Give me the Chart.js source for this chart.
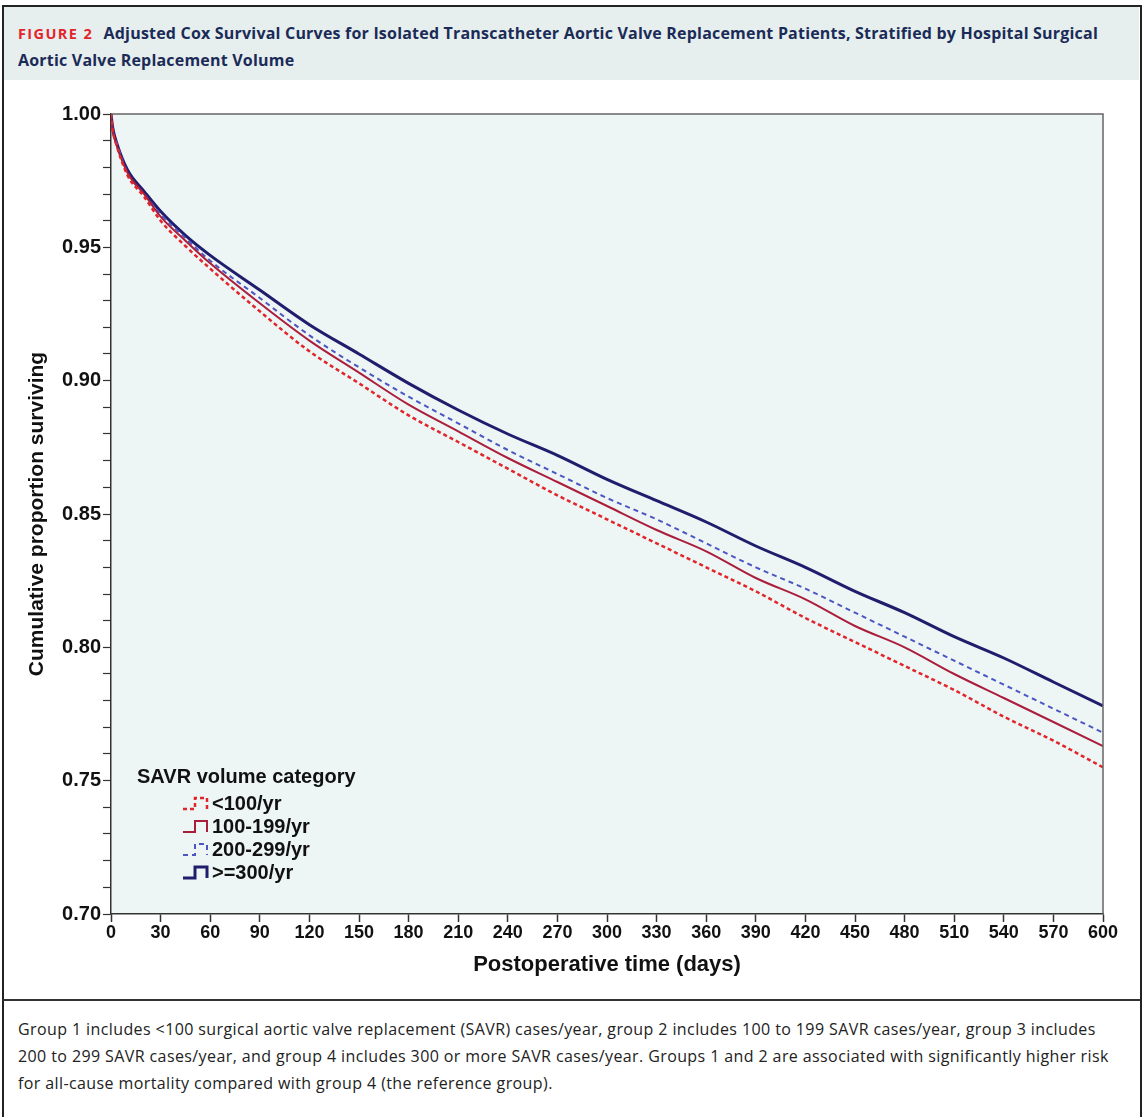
<!DOCTYPE html>
<html>
<head>
<meta charset="utf-8">
<script src="https://cdn.jsdelivr.net/npm/chart.js@4"></script>
<style>
  html, body { margin: 0; padding: 0; background: #fff; }
  body { width: 1142px; height: 1117px; position: relative; overflow: hidden; }
  #frame {
    position: absolute; left: 2px; top: 5px; width: 1136px; height: 1120px;
    border: 2px solid #222; border-bottom: none;
  }
  #header {
    position: absolute; left: 4px; top: 7px; width: 1135px; height: 73px;
    background: #e6efee;
  }
  #header p {
    margin: 0; position: absolute; left: 14px; top: 13px; width: 1115px;
    font-family: "Open Sans", sans-serif; font-weight: 700; font-size: 16px;
    line-height: 27px; color: #1b2b57; letter-spacing: 0.2px;
  }
  #header .fig { color: #e2252b; letter-spacing: 1.4px; font-size: 14.5px; margin-right: 6px; }
  #chartBox { position: absolute; left: 0; top: 90px; width: 1142px; height: 900px; }
  #divider { position: absolute; left: 3px; top: 999px; width: 1137px; height: 2px; background: #333; }
  #caption {
    position: absolute; left: 18px; top: 1016px; width: 1115px; margin: 0;
    font-family: "Open Sans", sans-serif; font-size: 16px; line-height: 27px; color: #222;
    letter-spacing: 0.4px;
  }
</style>
</head>
<body>
<div id="frame"></div>
<div id="header">
  <p><span class="fig">FIGURE 2</span> Adjusted Cox Survival Curves for Isolated Transcatheter Aortic Valve Replacement Patients, Stratified by Hospital Surgical<br>Aortic Valve Replacement Volume</p>
</div>
<div id="chartBox"><canvas id="survChart"></canvas></div>
<div id="divider"></div>
<p id="caption">Group 1 includes &lt;100 surgical aortic valve replacement (SAVR) cases/year, group 2 includes 100 to 199 SAVR cases/year, group 3 includes<br>200 to 299 SAVR cases/year, and group 4 includes 300 or more SAVR cases/year. Groups 1 and 2 are associated with significantly higher risk<br>for all-cause mortality compared with group 4 (the reference group).</p>

<script>
// days after surgery (x values)
const days = [0, 1, 3, 10, 20, 30, 45, 60, 90, 120, 150, 180, 210, 240, 270, 300, 330, 360, 390, 420, 450, 480, 510, 540, 570, 600];

// survival
const under100 = [1.000, 0.994, 0.989, 0.977, 0.969, 0.960, 0.9505, 0.942, 0.926, 0.911, 0.899, 0.887, 0.877, 0.867, 0.857, 0.848, 0.839, 0.830, 0.821, 0.811, 0.802, 0.793, 0.784, 0.774, 0.765, 0.755];
const v100to199 = [1.000, 0.994, 0.989, 0.978, 0.970, 0.9615, 0.9525, 0.944, 0.929, 0.915, 0.903, 0.891, 0.881, 0.871, 0.862, 0.853, 0.844, 0.836, 0.826, 0.818, 0.808, 0.800, 0.790, 0.781, 0.772, 0.763];
const v200to299 = [1.000, 0.994, 0.990, 0.978, 0.970, 0.9625, 0.9535, 0.945, 0.931, 0.917, 0.905, 0.894, 0.884, 0.874, 0.865, 0.856, 0.848, 0.839, 0.830, 0.822, 0.813, 0.804, 0.795, 0.786, 0.777, 0.768];
const over300 = [1.000, 0.995, 0.990, 0.979, 0.971, 0.9635, 0.9545, 0.947, 0.934, 0.921, 0.910, 0.899, 0.889, 0.880, 0.872, 0.863, 0.855, 0.847, 0.838, 0.830, 0.821, 0.813, 0.804, 0.796, 0.787, 0.778];

const seriesLabels = ['<100/yr', '100-199/yr', '200-299/yr', '>=300/yr'];
const xTicksStep = 30;
const yMajorStep = 0.05;

const toPoints = arr => arr.map((v, i) => ({ x: days[i], y: v }));

const FONT = '"Liberation Sans", Arial, sans-serif';
const axisFont = { family: FONT, weight: 'bold', size: 20 };

// plot background + frame
const plotBg = {
    id: 'plotBg',
    beforeDraw(chart) {
        const { ctx, chartArea: a } = chart;
        ctx.save();
        ctx.fillStyle = '#eef5f5';
        ctx.fillRect(a.left, a.top, a.right - a.left, a.bottom - a.top);
        ctx.restore();
    },
    afterDatasetsDraw(chart) {
        const { ctx, chartArea: a } = chart;
        ctx.save();
        ctx.strokeStyle = '#666';
        ctx.lineWidth = 1.5;
        ctx.beginPath();
        ctx.moveTo(a.left, a.top);
        ctx.lineTo(a.right, a.top);
        ctx.lineTo(a.right, a.bottom);
        ctx.stroke();
        ctx.restore();
    }
};

// legend drawn inside the plot, with step shaped keys
const stepLegend = {
    id: 'stepLegend',
    afterDraw(chart) {
        const { ctx, chartArea: a } = chart;
        ctx.save();
        ctx.fillStyle = '#111';
        ctx.font = 'bold 20px ' + FONT;
        ctx.textBaseline = 'middle';
        ctx.fillText('SAVR volume category', a.left + 26, a.top + 663);
        chart.data.datasets.forEach((ds, i) => {
            const y = a.top + 689 + i * 23;
            const x = a.left + 72;
            ctx.strokeStyle = ds.borderColor;
            ctx.lineWidth = ds.borderWidth;
            ctx.setLineDash(ds.borderDash || []);
            ctx.beginPath();
            ctx.moveTo(x, y + 6);
            ctx.lineTo(x + 12, y + 6);
            ctx.lineTo(x + 12, y - 5);
            ctx.lineTo(x + 24, y - 5);
            ctx.lineTo(x + 24, y + 6);
            ctx.stroke();
            ctx.setLineDash([]);
            ctx.fillStyle = '#111';
            ctx.fillText(ds.label, x + 29, y + 1);
        });
        ctx.restore();
    }
};

const ctx = document.getElementById('survChart').getContext('2d');
new Chart(ctx, {
    type: 'line',
    data: {
        datasets: [{
            label: seriesLabels[0],
            data: toPoints(under100),
            borderColor: '#e0262b',
            borderWidth: 2.5,
            borderDash: [4, 3]
        }, {
            label: seriesLabels[1],
            data: toPoints(v100to199),
            borderColor: '#aa1e3c',
            borderWidth: 2
        }, {
            label: seriesLabels[2],
            data: toPoints(v200to299),
            borderColor: '#4b56c2',
            borderWidth: 2,
            borderDash: [5, 4]
        }, {
            label: seriesLabels[3],
            data: toPoints(over300),
            borderColor: '#1e1e6c',
            borderWidth: 3
        }]
    },
    options: {
        responsive: true,
        maintainAspectRatio: false,
        animation: false,
        elements: {
            point: { radius: 0 },
            line: { cubicInterpolationMode: 'monotone', fill: false }
        },
        layout: { padding: { top: 24, right: 39, bottom: 0, left: 0 } },
        plugins: {
            legend: { display: false },
            tooltip: { enabled: false }
        },
        scales: {
            x: {
                type: 'linear',
                min: 0,
                max: 600,
                afterFit: s => { s.height = 76; },
                ticks: {
                    stepSize: xTicksStep,
                    autoSkip: false,
                    maxRotation: 0,
                    padding: 0,
                    color: '#111',
                    font: { family: FONT, weight: 'bold', size: 18 }
                },
                grid: { drawOnChartArea: false, tickLength: 8, color: '#333', tickWidth: 1.5 },
                border: { color: '#333', width: 1.5 },
                title: {
                    display: true,
                    text: 'Postoperative time (days)',
                    color: '#111',
                    font: { family: FONT, weight: 'bold', size: 22 },
                    padding: { top: 0, bottom: 12 }
                }
            },
            y: {
                min: 0.70,
                max: 1.00,
                afterFit: s => { s.width = 111; },
                ticks: {
                    stepSize: 0.01,
                    autoSkip: false,
                    padding: 2,
                    color: '#111',
                    font: axisFont,
                    callback: v => (Math.round(v * 100) % Math.round(yMajorStep * 100) === 0 ? v.toFixed(2) : '')
                },
                grid: {
                    drawOnChartArea: false,
                    tickLength: 8,
                    color: '#333',
                    tickWidth: 1.2
                },
                border: { color: '#333', width: 1.5 },
                title: {
                    display: true,
                    text: 'Cumulative proportion surviving',
                    color: '#111',
                    font: { family: FONT, weight: 'bold', size: 21 },
                    padding: { top: 25, bottom: 0 }
                }
            }
        }
    },
    plugins: [plotBg, stepLegend]
});
</script>
</body>
</html>
